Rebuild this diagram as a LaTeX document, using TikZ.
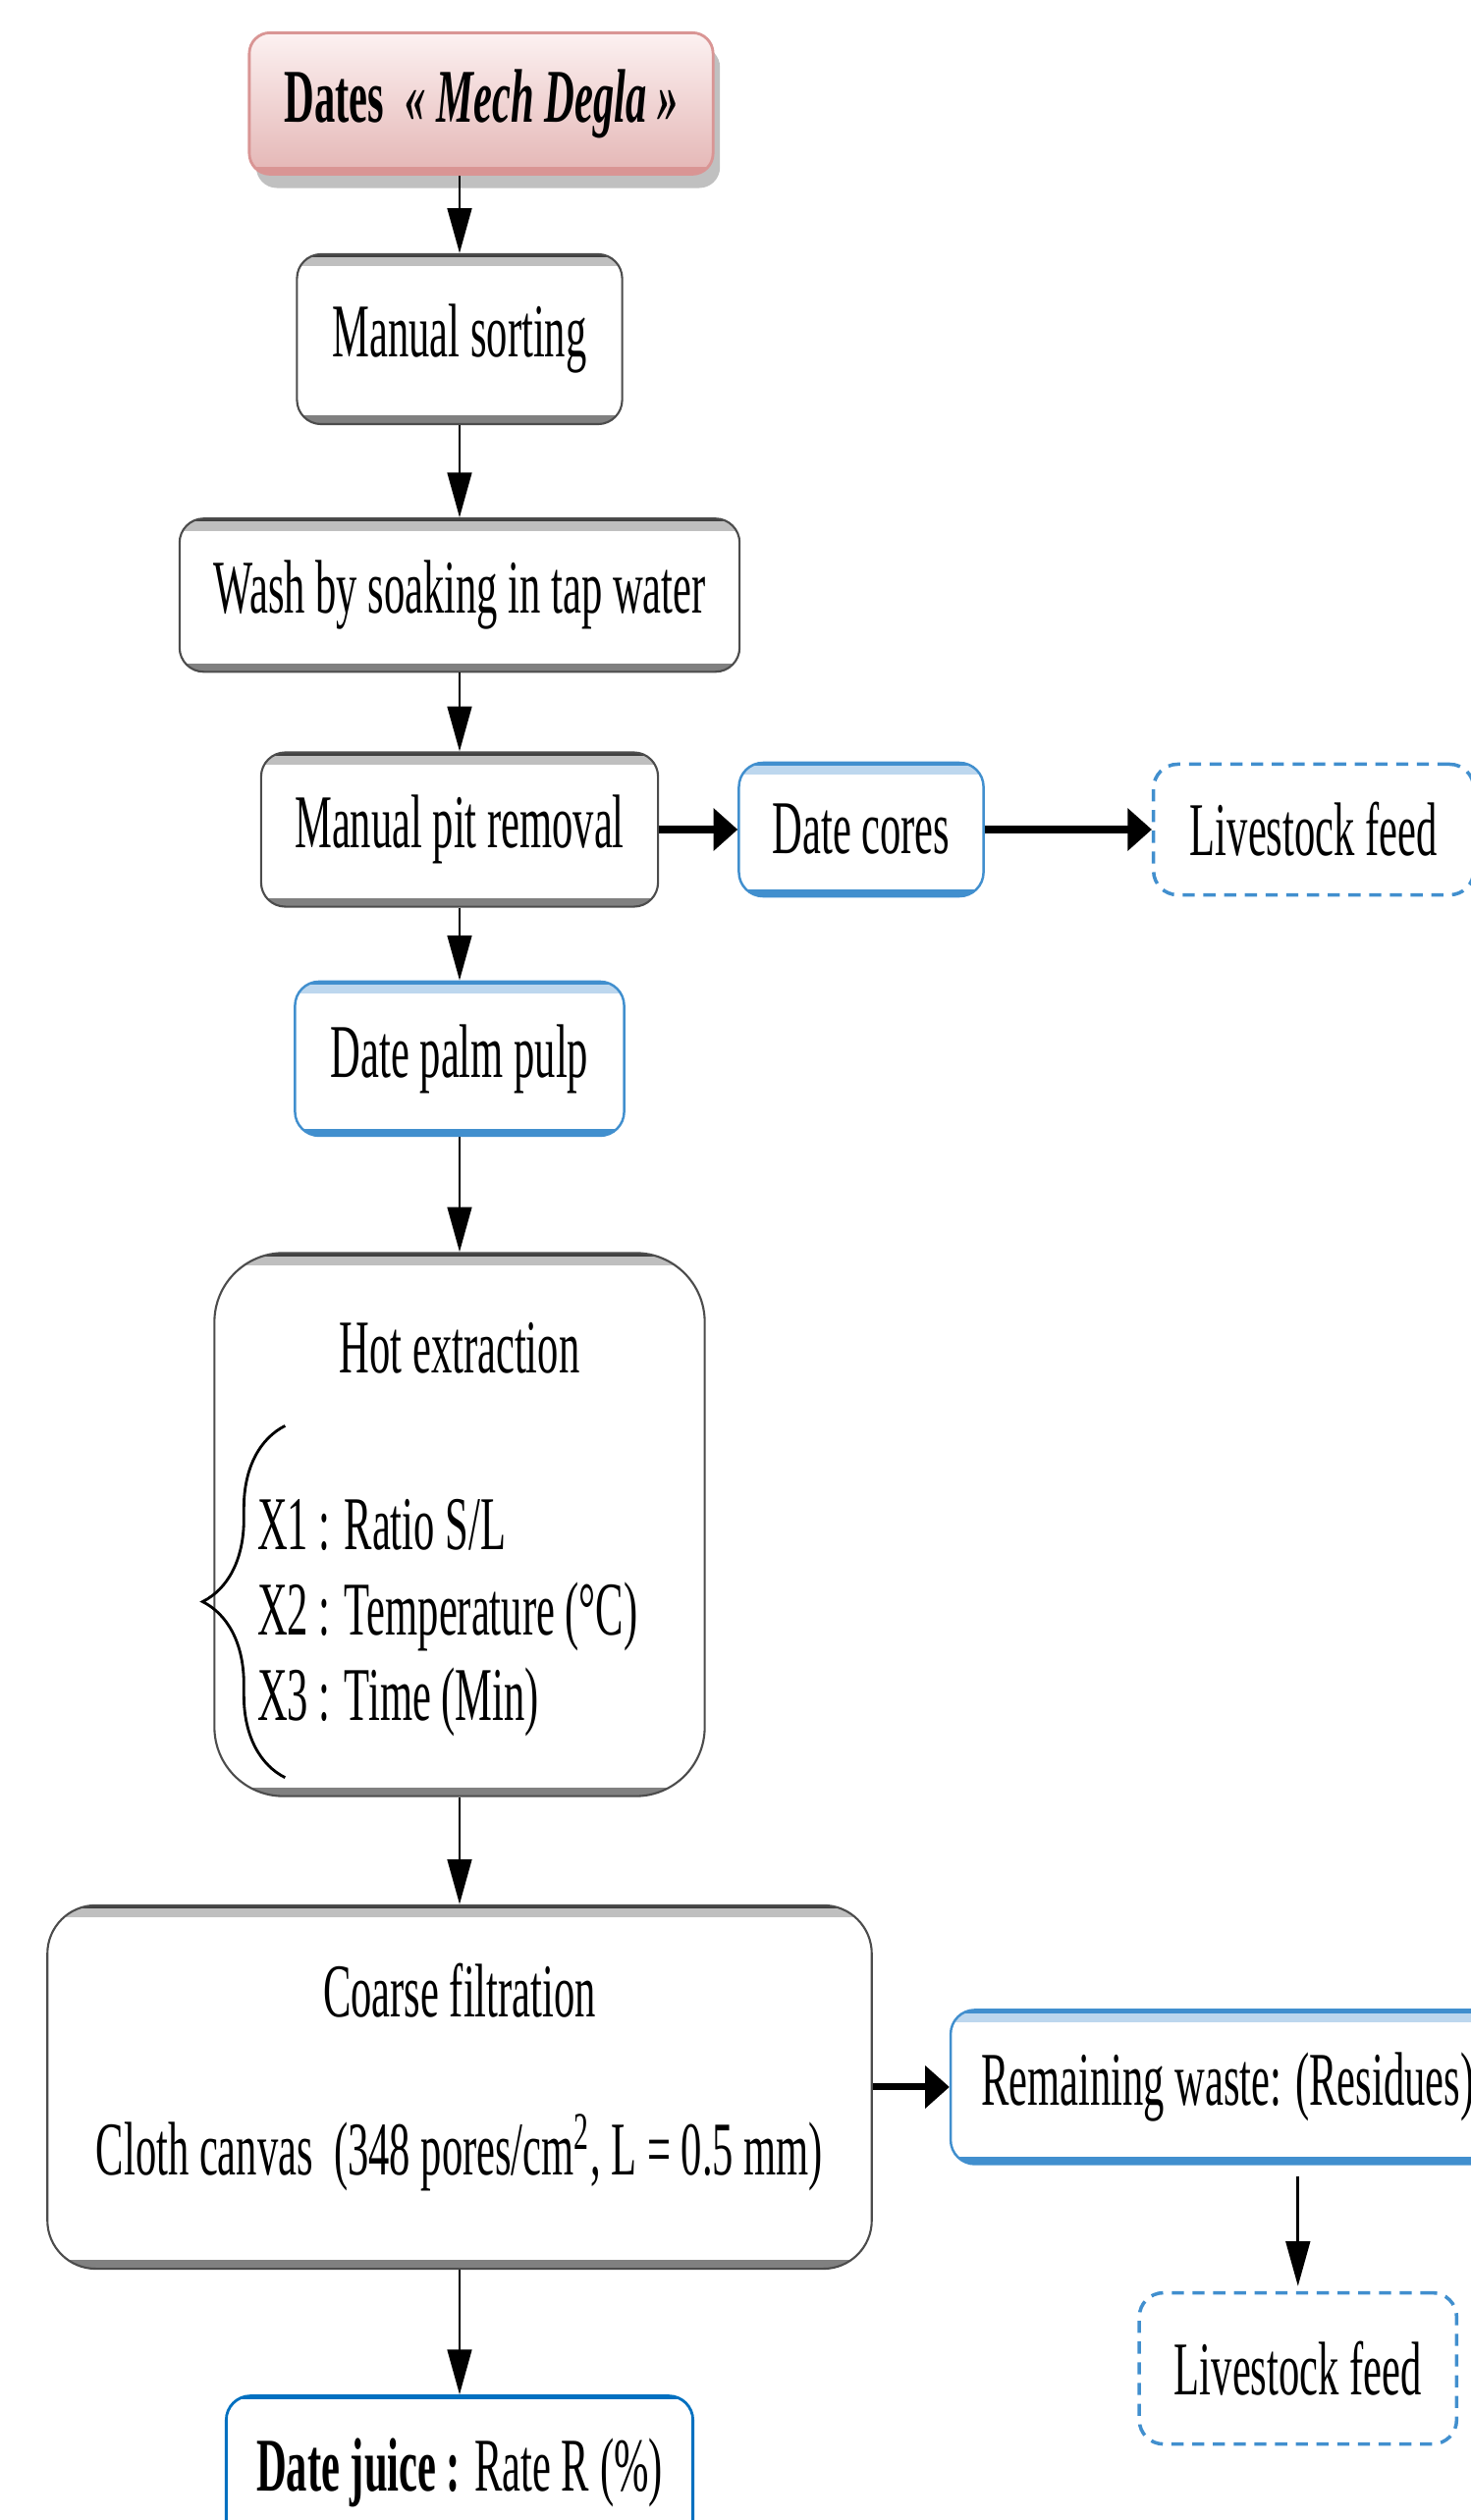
\documentclass[tikz,border=0pt]{standalone}
\usepackage{fontspec}
\setmainfont[FakeStretch=0.55]{Liberation Serif}
\usepackage{tikz}
\usetikzlibrary{positioning,arrows.meta,shadows,decorations.pathreplacing}

\definecolor{pinkline}{RGB}{217,149,148}
\definecolor{pinktop}{RGB}{252,241,241}
\definecolor{pinkbot}{RGB}{228,182,181}
\definecolor{boxblue}{RGB}{65,143,206}
\definecolor{paleblue}{RGB}{189,215,238}
\definecolor{juiceblue}{RGB}{0,112,192}

\begin{document}
\begin{tikzpicture}[x=0.01cm, y=-0.01cm,
  every node/.style={font=\fontsize{22pt}{26pt}\selectfont, inner sep=0pt},
  procbox/.style={draw=black!70, line width=0.6pt, rounded corners=7pt, fill=white,
    path picture={
      \draw[black!25, line width=3pt] ([yshift=-2pt]path picture bounding box.north west) -- ([yshift=-2pt]path picture bounding box.north east);
      \draw[black!75, line width=1.8pt] (path picture bounding box.north west) -- (path picture bounding box.north east);
      \draw[black!50, line width=5pt] (path picture bounding box.south west) -- (path picture bounding box.south east);}},
  prodbox/.style={draw=boxblue, line width=0.7pt, rounded corners=7pt, fill=white,
    path picture={
      \draw[paleblue, line width=3pt] ([yshift=-2pt]path picture bounding box.north west) -- ([yshift=-2pt]path picture bounding box.north east);
      \draw[boxblue, line width=1.8pt] (path picture bounding box.north west) -- (path picture bounding box.north east);
      \draw[boxblue, line width=4pt] (path picture bounding box.south west) -- (path picture bounding box.south east);}},
  juicebox/.style={draw=juiceblue, line width=0.8pt, rounded corners=7pt, fill=white,
    path picture={
      \draw[juiceblue, line width=2pt] (path picture bounding box.north west) -- (path picture bounding box.north east);}},
  feedbox/.style={draw=boxblue, line width=1pt, dash pattern=on 3.5pt off 2.5pt, rounded corners=7pt},
  datesbox/.style={draw=pinkline, line width=0.8pt, rounded corners=6pt, top color=pinktop, bottom color=pinkbot,
    drop shadow={shadow xshift=2pt, shadow yshift=-4pt, fill=black!45, opacity=0.55},
    path picture={
      \draw[pinkline, line width=4pt] (path picture bounding box.south west) -- (path picture bounding box.south east);}},
  varr/.style={-{Triangle[length=13pt,width=7pt]}, line width=0.8pt},
  harr/.style={-{Triangle[length=7pt,width=12pt]}, line width=2pt}]

\useasboundingbox (0,0) rectangle (1497,2567);

% main line
\node[procbox, minimum width=3.31cm, minimum height=1.73cm] (sorting) at (468,345.5) {Manual sorting};
\node[datesbox, minimum width=4.72cm, minimum height=1.44cm] (dates) [above=0.79cm of sorting, xshift=0.22cm]
  {\bfseries Dates\ \ \itshape « Mech Degla »};
\node[procbox, minimum width=5.70cm, minimum height=1.56cm] (wash) [below=0.94cm of sorting] {Wash by soaking in tap water};
\node[procbox, minimum width=4.04cm, minimum height=1.57cm] (pit) [below=0.80cm of wash] {Manual pit removal};
\node[prodbox, minimum width=3.35cm, minimum height=1.57cm] (pulp) [below=0.74cm of pit] {Date palm pulp};
\node[procbox, rounded corners=20pt, minimum width=4.99cm, minimum height=5.53cm] (hot) [below=1.17cm of pulp] {};
\node[procbox, rounded corners=14pt, minimum width=8.39cm, minimum height=3.70cm] (coarse) [below=1.09cm of hot] {};
\node[juicebox, minimum width=4.75cm, minimum height=1.57cm] (juice) [below=1.27cm of coarse]
  {\textbf{Date juice :} Rate R (\%)};

% side products
\node[prodbox, minimum width=2.49cm, minimum height=1.36cm] (cores) [right=0.8cm of pit] {Date cores};
\node[feedbox, minimum width=3.26cm, minimum height=1.33cm] (feed1) [right=1.7cm of cores] {Livestock feed};
\node[prodbox, minimum width=5.64cm, minimum height=1.57cm] (waste) [right=0.78cm of coarse] {Remaining waste: (Residues)};
\node[feedbox, minimum width=3.23cm, minimum height=1.54cm] (feed2) [below=1.28cm of waste, xshift=0.715cm] {Livestock feed};

% texts inside the two big boxes
\node (hottitle) at ([yshift=-0.98cm]hot.north) {Hot extraction};
\node[anchor=west, align=left, font=\fontsize{22pt}{24.7pt}\selectfont] (vars) at ([xshift=0.44cm, yshift=-0.95cm]hot.west)
  {X1 : Ratio S/L\\X2 : Temperature (°C)\\X3 : Time (Min)};
\draw[line width=0.8pt, decorate, decoration={brace, amplitude=0.84cm}] ([xshift=0.73cm, yshift=0.2cm]hot.south west) -- ([xshift=0.73cm, yshift=-1.77cm]hot.north west);
\node (coarsetitle) at ([yshift=-0.88cm]coarse.north) {Coarse filtration};
\node (cloth) at ([yshift=-0.67cm]coarse.center) {Cloth canvas \ (348 pores/cm\textsuperscript{2}, L = 0.5 mm)};

\path[varr]
  (dates.south -| sorting.north) edge (sorting.north)
  (sorting) edge (wash)
  (wash) edge (pit)
  (pit) edge (pulp)
  (pulp) edge (hot)
  (hot) edge (coarse)
  (coarse) edge (juice)
  (waste.south -| feed2.north) edge[shorten <=0.11cm, shorten >=0.05cm] (feed2.north);

\path[harr]
  (pit) edge (cores)
  (cores) edge (feed1)
  (coarse) edge (waste);
\end{tikzpicture}
\end{document}
